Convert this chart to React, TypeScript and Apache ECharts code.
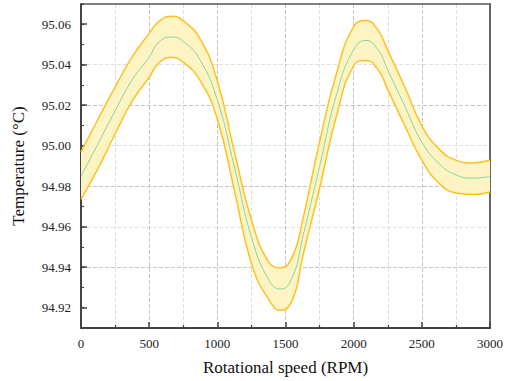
import React, { useEffect, useRef } from "react";
import * as echarts from "echarts";

const rpm = [0, 125, 250, 375, 500, 570, 660, 750, 875, 1000, 1125, 1250, 1375, 1465, 1555, 1625, 1750, 1875, 2000, 2090, 2180, 2250, 2375, 2500, 2625, 2750, 2875, 3000];
const centerT = [94.985, 95.001, 95.0172, 95.0325, 95.0437, 95.051, 95.0537, 95.0515, 95.0422, 95.0225, 94.9895, 94.955, 94.934, 94.9292, 94.936, 94.9545, 94.9898, 95.0254, 95.0475, 95.052, 95.0472, 95.0374, 95.0196, 95.0018, 94.9913, 94.9856, 94.984, 94.9848];
const upperT = [94.997, 95.0131, 95.029, 95.0439, 95.0555, 95.0613, 95.064, 95.0617, 95.0525, 95.032, 94.997, 94.9635, 94.9428, 94.9397, 94.946, 94.963, 95.002, 95.036, 95.0588, 95.0618, 95.057, 95.0471, 95.029, 95.0099, 94.9985, 94.9929, 94.9915, 94.993];
const lowerT = [94.9735, 94.9888, 95.0058, 95.022, 95.0338, 95.0408, 95.0436, 95.0412, 95.032, 95.0131, 94.978, 94.942, 94.9242, 94.9187, 94.9245, 94.945, 94.979, 95.015, 95.0395, 95.0421, 95.0374, 95.0277, 95.0099, 94.9929, 94.9816, 94.9767, 94.9759, 94.9772];
const yMajorTicks = [94.92, 94.94, 94.96, 94.98, 95.0, 95.02, 95.04, 95.06];

const SERIF = "Liberation Serif";
const EDGE = "#fcc124";
const FILL = "#fdf3c3";
const MID = "#7fd9a0";

export default function App() {
  const ref = useRef<HTMLDivElement>(null);
  useEffect(() => {
    if (!ref.current) return;
    const chart = echarts.init(ref.current, undefined, { renderer: "svg" });
    // data as [value, rpm] so that the stacked dimension is the value (y)
    const pairs = (ys: number[]) => rpm.map((x, i) => [ys[i], x]);
    const diff = rpm.map((x, i) => [+(upperT[i] - lowerT[i]).toFixed(5), x]);
    const enc = { x: 1, y: 0 };
    const smooth = 0.5;
    const label = { fontFamily: SERIF, fontSize: 13, color: "#222" };
    chart.setOption({
      animation: false,
      textStyle: { fontFamily: SERIF },
      grid: { left: 81, right: 22, top: 4, bottom: 48, show: false },
      xAxis: [
        {
          type: "value",
          position: "bottom",
          min: 0,
          max: 3000,
          interval: 500,
          axisLine: { show: true, lineStyle: { color: "#444", width: 2 } },
          axisTick: { show: true, inside: true, length: 6, lineStyle: { color: "#444", width: 1.5 } },
          minorTick: { show: true, splitNumber: 2, length: 3, lineStyle: { color: "#444", width: 1.2 } },
          splitLine: { show: true, showMinLine: false, showMaxLine: false, lineStyle: { type: "dashed", color: "#c4c4c4" } },
          minorSplitLine: { show: true, lineStyle: { type: "dashed", color: "#e0e0e0" } },
          axisLabel: { ...label, margin: 9, formatter: (v: number) => String(v) },
          name: "Rotational speed (RPM)",
          nameLocation: "middle",
          nameGap: 31,
          nameTextStyle: { fontFamily: SERIF, fontSize: 17, color: "#111" },
        },
        {
          type: "value",
          position: "top",
          min: 0,
          max: 3000,
          axisLine: { show: true, lineStyle: { color: "#555", width: 1.5 } },
          axisTick: { show: false },
          axisLabel: { show: false },
          splitLine: { show: false },
        },
      ],
      yAxis: [
        {
          type: "value",
          position: "left",
          min: 94.91,
          max: 95.07,
          interval: 0.01,
          axisLine: { show: true, lineStyle: { color: "#444", width: 2 } },
          axisTick: { show: true, inside: true, length: 6, customValues: yMajorTicks, lineStyle: { color: "#444", width: 1.5 } },
          splitLine: { show: true, showMinLine: false, showMaxLine: false, lineStyle: { type: "dashed", color: ["#c4c4c4", "#e0e0e0"] } },
          axisLabel: {
            ...label,
            margin: 10,
            formatter: (v: number) => (Math.round(v * 100) % 2 === 0 ? v.toFixed(2) : ""),
          },
          name: "Temperature (°C)",
          nameLocation: "middle",
          nameGap: 54,
          nameTextStyle: { fontFamily: SERIF, fontSize: 17, color: "#111" },
        },
        {
          type: "value",
          position: "left",
          min: 94.91,
          max: 95.07,
          interval: 0.01,
          axisLine: { show: false },
          axisTick: { show: true, inside: true, length: 3, lineStyle: { color: "#444", width: 1.2 } },
          splitLine: { show: false },
          axisLabel: { show: false },
        },
        {
          type: "value",
          position: "right",
          min: 94.91,
          max: 95.07,
          axisLine: { show: true, lineStyle: { color: "#666", width: 2 } },
          axisTick: { show: false },
          axisLabel: { show: false },
          splitLine: { show: false },
        },
      ],
      series: [
        {
          type: "line",
          name: "lower",
          data: pairs(lowerT),
          encode: enc,
          stack: "band",
          smooth,
          symbol: "none",
          z: 3,
          lineStyle: { color: EDGE, width: 1.5 },
        },
        {
          type: "line",
          name: "band",
          data: diff,
          encode: enc,
          stack: "band",
          smooth,
          symbol: "none",
          z: 1,
          lineStyle: { opacity: 0, width: 0 },
          areaStyle: { color: FILL, opacity: 1 },
        },
        {
          type: "line",
          name: "upper",
          data: pairs(upperT),
          encode: enc,
          smooth,
          symbol: "none",
          z: 3,
          lineStyle: { color: EDGE, width: 1.5 },
        },
        {
          type: "line",
          name: "mean",
          data: pairs(centerT),
          encode: enc,
          smooth,
          symbol: "none",
          z: 4,
          lineStyle: { color: MID, width: 1 },
        },
      ],
    });
    return () => chart.dispose();
  }, []);
  return <div ref={ref} style={{ width: 512, height: 381, position: "absolute", left: 0, top: 0 }} />;
}
